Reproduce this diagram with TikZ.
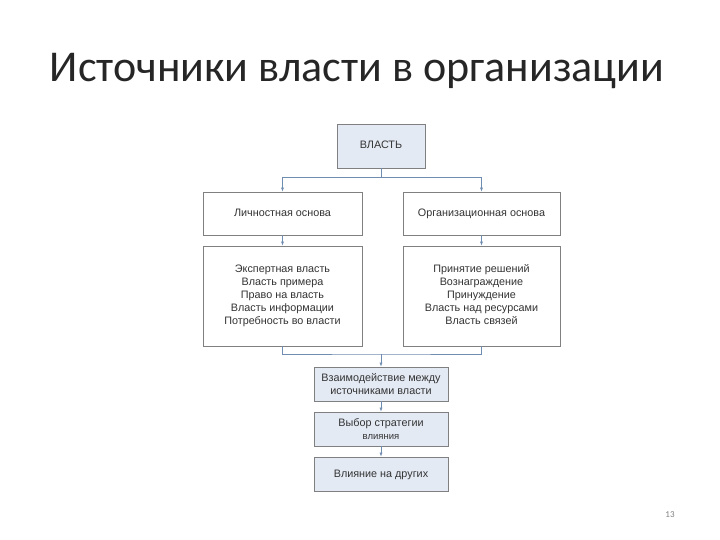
\documentclass[tikz,border=0pt]{standalone}
\usepackage{fontspec}
\setmainfont{Liberation Sans}
\newfontfamily\titlefont{Carlito}
\usetikzlibrary{arrows.meta}
\definecolor{boxline}{HTML}{808080}
\definecolor{boxfill}{HTML}{E4EAF4}
\definecolor{linkcol}{HTML}{6F8DB0}
\definecolor{txt}{HTML}{333333}
\tikzset{
  card/.style={draw=boxline, fill=white, line width=0.8pt, align=center,
    font=\fontsize{10.8}{13}\selectfont, text=txt, inner sep=2pt},
  shaded/.style={card, fill=boxfill},
  oneline/.style={text height=8pt, text depth=2pt},
  link/.style={draw=linkcol, line width=0.6pt},
  arrowlink/.style={link, -{Latex[length=4pt,width=3pt]}}
}
\begin{document}
\begin{tikzpicture}[x=1pt, y=-1pt]
  % page frame
  \useasboundingbox[fill=white] (0,0) rectangle (720,540);
  % Title
  \node[font=\titlefont\fontsize{44}{50}\selectfont, text=black!85] (title) at (357,71)
    {Источники власти в организации};
  % Top box
  \node[shaded, oneline, minimum width=88pt, minimum height=44pt] (power) at (381,146) {ВЛАСТЬ};
  % Two bases
  \node[card, oneline, minimum width=159pt, minimum height=43pt] (personal) at (282.5,213.5) {Личностная основа};
  \node[card, oneline, minimum width=157pt, minimum height=43pt] (organiz) at (481.5,213.5) {Организационная основа};
  % Lists of sources
  \node[card, minimum width=159pt, minimum height=100pt] (perslist) at (282.5,296)
    {\strut Экспертная власть\\Власть примера\\Право на власть\\Власть информации\\Потребность во власти\strut};
  \node[card, minimum width=157pt, minimum height=100pt] (orglist) at (481.5,296)
    {\strut Принятие решений\\Вознаграждение\\Принуждение\\Власть над ресурсами\\Власть связей\strut};
  % Lower chain
  \node[shaded, minimum width=134pt, minimum height=34pt] (interact) at (381,384)
    {Взаимодействие между\\источниками власти};
  \node[shaded, minimum width=134pt, minimum height=34pt] (strategy) at (381,429)
    {Выбор стратегии\\{\fontsize{9.5}{12}\selectfont влияния}};
  \node[shaded, oneline, minimum width=134pt, minimum height=34pt] (influence) at (381,474)
    {Влияние на других};
  % Connectors from the top
  \coordinate (split) at (381,177);
  \draw[link] (power.south) -- (split);
  \draw[arrowlink] (split) -| (personal.north);
  \draw[arrowlink] (split) -| (organiz.north);
  \draw[arrowlink] (personal.south) -- (perslist.north);
  \draw[arrowlink] (organiz.south) -- (orglist.north);
  % Joining the two lists
  \coordinate (join) at (381,354);
  \draw[link] (perslist.south) |- (join) -| (orglist.south);
  \draw[arrowlink] (join) -- (interact.north);
  \draw[arrowlink] (interact.south) -- (strategy.north);
  \draw[arrowlink] (strategy.south) -- (influence.north);
  % Page number
  \node[font=\titlefont\fontsize{9}{10}\selectfont, text=black!50] (pagenum) at (670,515) {13};
\end{tikzpicture}
\end{document}
